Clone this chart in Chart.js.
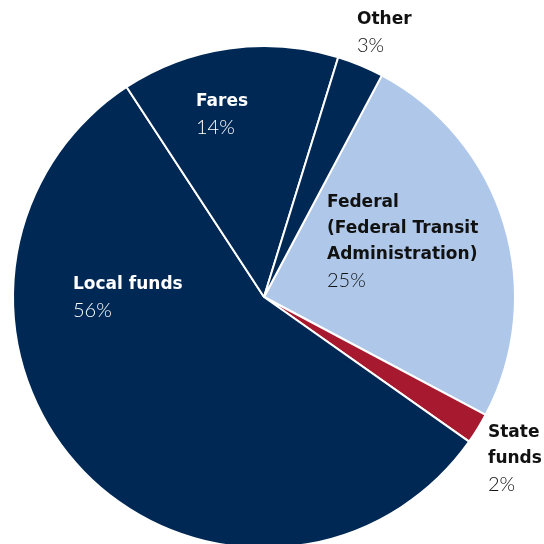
<!DOCTYPE html>
<html>
<head>
    <meta charset='utf-8'>
    <title>Transit funding sources</title>
    <script src="https://cdn.jsdelivr.net/npm/chart.js@4.4.1/dist/chart.umd.min.js"></script>
    <style>
        body { margin: 0; overflow: hidden; background: #fff; }
    </style>
</head>
<body>
    <canvas id="myChart" width="544" height="560"></canvas>
    <script>
        // data (clockwise from the Federal slice)
        const categories = ['Federal', 'State funds', 'Local funds', 'Fares', 'Other'];
        const labelLines = [['Federal', '(Federal Transit', 'Administration)'], ['State', 'funds'], ['Local funds'], ['Fares'], ['Other']];
        const shares = [25, 2, 56, 14, 3];
        const pctLabels = ['25%', '2%', '56%', '14%', '3%'];

        const sliceColors = ['#afc8ea', '#a6192e', '#002855', '#002855', '#002855'];
        const textColors = ['#111', '#111', '#fff', '#fff', '#111'];
        // label anchor (left x, first line centre y) in page pixels
        const labelPos = [[327, 203], [488, 433], [73, 285], [196, 102], [357, 20]];

        const labelPlugin = {
            id: 'sliceLabels',
            afterDraw(chart) {
                const ctx = chart.ctx;
                ctx.save();
                ctx.textAlign = 'left';
                ctx.textBaseline = 'middle';
                categories.forEach((c, i) => {
                    const [x, y] = labelPos[i];
                    ctx.fillStyle = textColors[i];
                    ctx.font = 'bold 17px "DejaVu Sans"';
                    labelLines[i].forEach((line, j) => {
                        ctx.fillText(line, x, y + j * 26);
                    });
                    ctx.font = '300 20px Lato';
                    ctx.fillText(pctLabels[i], x, y + labelLines[i].length * 26);
                });
                ctx.restore();
            }
        };

        const ctx = document.getElementById('myChart').getContext('2d');
        new Chart(ctx, {
            type: 'pie',
            data: {
                labels: categories,
                datasets: [{
                    data: shares,
                    backgroundColor: sliceColors,
                    borderColor: '#ffffff',
                    borderWidth: 2
                }]
            },
            options: {
                responsive: false,
                animation: false,
                rotation: 28,
                layout: { padding: { left: 12, right: 28, top: 45, bottom: 11 } },
                plugins: {
                    legend: { display: false },
                    tooltip: { enabled: false }
                }
            },
            plugins: [labelPlugin]
        });
    </script>
</body>
</html>
